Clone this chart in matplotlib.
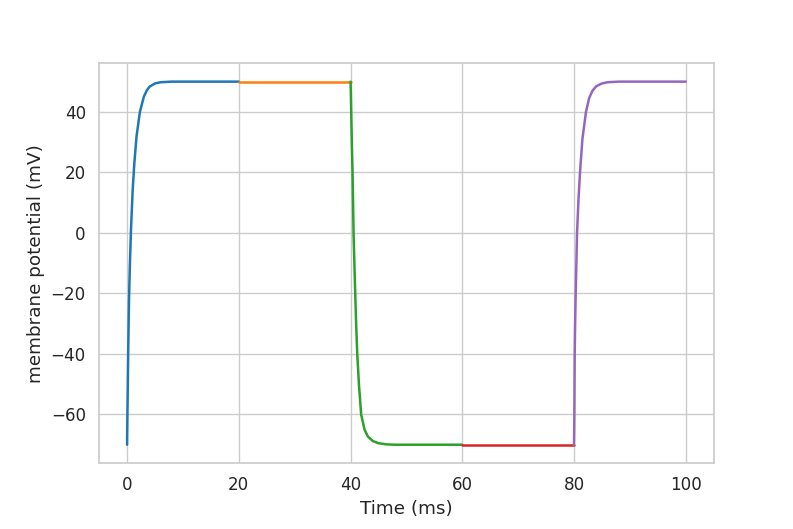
import numpy as np
import matplotlib
matplotlib.use("Agg")
import matplotlib.pyplot as plt
import seaborn as sns

sns.set_theme(style="whitegrid", palette="tab10", font_scale=1.1)

# segment 1: rise from rest to +50 mV (0-20 ms)
t_rise1 = [0.0, 0.05, 0.1, 0.2, 0.35, 0.5, 0.7, 1.0, 1.3, 1.7, 2.3, 3.0, 3.5, 4.0, 5.0, 6.0, 8.0, 20.0]
v_rise1 = [-70, -62, -55, -40, -22, -11, 1, 14, 23, 32, 40, 45, 47, 48.3, 49.4, 49.8, 50, 50]

# segment 2: hold at +50 mV (20-40 ms)
t_hold_hi = [20.0, 40.0]
v_hold_hi = [50, 50]

# segment 3: decay back to -70 mV (40-60 ms)
t_fall = [40.0, 40.05, 40.12, 40.25, 40.36, 40.54, 40.7, 40.84, 41.0, 41.2, 41.5, 41.9, 42.5, 43.1, 44.0, 45.0, 46.5, 48.0, 60.0]
v_fall = [50, 47, 40, 28, 20, 0, -11, -20, -30, -40, -50, -60, -65, -67.3, -68.8, -69.5, -69.9, -70, -70]

# segment 4: hold at -70 mV (60-80 ms)
t_hold_lo = [60.0, 80.0]
v_hold_lo = [-70, -70]

# segment 5: rise again to +50 mV (80-100 ms)
t_rise2 = [80.0, 80.03, 80.06, 80.12, 80.2, 80.3, 80.54, 80.8, 81.07, 81.5, 82.14, 82.7, 83.3, 84.0, 85.0, 86.0, 88.0, 100.0]
v_rise2 = [-70, -66, -60, -40, -30, -20, 0, 11, 20, 31, 40, 44.5, 47, 48.5, 49.4, 49.8, 50, 50]

segments = [
    (t_rise1, v_rise1),
    (t_hold_hi, v_hold_hi),
    (t_fall, v_fall),
    (t_hold_lo, v_hold_lo),
    (t_rise2, v_rise2),
]

fig, ax = plt.subplots(figsize=(7.93, 5.29), dpi=100)
plt.subplots_adjust(left=0.125, right=0.9, top=0.88, bottom=0.125)

for t, v in segments:
    ax.plot(t, v, linewidth=1.8)

ax.set_xlabel("Time (ms)")
ax.set_ylabel("membrane potential (mV)")

fig.savefig("out.png", dpi=100)
